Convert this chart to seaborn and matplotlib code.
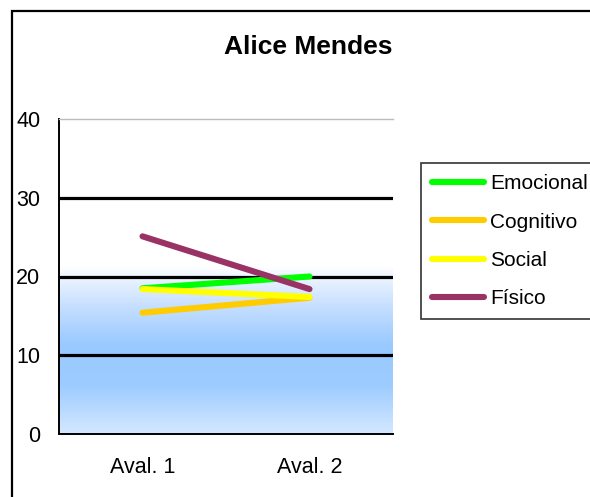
import numpy as np
import pandas as pd
import seaborn as sns
import matplotlib.pyplot as plt
from matplotlib.colors import LinearSegmentedColormap
from matplotlib.patches import Rectangle

# data
avaliacoes = ["Aval. 1", "Aval. 2"]
emocional = [18.5, 20.0]
cognitivo = [15.4, 17.3]
social = [18.4, 17.4]
fisico = [25.1, 18.4]
dominios = ["Emocional", "Cognitivo", "Social", "Físico"]
cores = ["#00FF00", "#FFCC00", "#FFFF00", "#993366"]
y_ticks = [0, 10, 20, 30, 40]

sns.set_theme(style="white", rc={"text.color": "black", "xtick.color": "black",
                                 "ytick.color": "black", "axes.labelcolor": "black"})
plt.rcParams["font.family"] = ["Liberation Sans", "DejaVu Sans"]

df = pd.DataFrame({
    "aval": avaliacoes * 4,
    "x": [0, 1] * 4,
    "valor": emocional + cognitivo + social + fisico,
    "dominio": np.repeat(dominios, 2),
})

fig = plt.figure(figsize=(5.9, 4.97), dpi=100)
ax = fig.add_axes([59 / 590, 63 / 497, 334 / 590, 315 / 497])

# gradient background (white top, blue band, lighter bottom)
grad = LinearSegmentedColormap.from_list("fundo", [
    (0.0, "#D4E8FF"),
    (0.15, "#9ECCFF"),
    (0.28, "#99C9FF"),
    (0.40, "#C4DEFF"),
    (0.50, "#EEF5FF"),
    (0.53, "#FFFFFF"),
    (1.0, "#FFFFFF"),
])
ax.imshow(np.linspace(0, 1, 256).reshape(-1, 1), aspect="auto", cmap=grad,
          origin="lower", extent=[-0.5, 1.5, 0, 40], zorder=0)

for v in [10, 20, 30]:
    ax.axhline(v, color="black", lw=2.3, zorder=1)

sns.lineplot(data=df, x="x", y="valor", hue="dominio", hue_order=dominios,
             palette=cores, lw=4.4, ax=ax, legend=True, zorder=3)

ax.set_xlim(-0.5, 1.5)
ax.set_ylim(0, 40)
ax.set_yticks(y_ticks)
ax.set_yticklabels([str(t) for t in y_ticks], fontsize=15.5)
ax.set_xticks([-0.5, 0.5, 1.5])
ax.set_xticklabels([])
ax.set_xticks([0, 1], minor=True)
ax.set_xticklabels(avaliacoes, minor=True, fontsize=15.5)
ax.tick_params(axis="x", which="minor", length=0, pad=16.5)
ax.tick_params(axis="x", which="major", direction="out", length=5, width=1.2, color="black")
ax.tick_params(axis="y", direction="out", length=6.5, width=1.2, color="black", pad=7)
ax.set_xlabel("")
ax.set_ylabel("")

for s in ["left", "bottom"]:
    ax.spines[s].set_color("black")
    ax.spines[s].set_linewidth(1.4)
ax.spines["top"].set_color("#BBBBBB")
ax.spines["top"].set_linewidth(1.0)
ax.spines["right"].set_visible(False)

ax.legend_.remove()
handles, labels = ax.get_legend_handles_labels()
leg = fig.legend(handles, labels, loc="upper left",
                 bbox_to_anchor=(421 / 590, 1 - 163 / 497),
                 frameon=True, fancybox=False, fontsize=15,
                 handlelength=2.45, handletextpad=0.3, labelspacing=0.92,
                 borderpad=0.55, borderaxespad=0)
leg.get_frame().set_edgecolor("black")
leg.get_frame().set_linewidth(1.2)
for h in leg.get_lines():
    h.set_linewidth(4.4)

fig.text(308 / 590, 1 - 47 / 497, "Alice Mendes", ha="center", va="center",
         fontsize=19, fontweight="bold")

# outer chart border
fig.patches.append(Rectangle((12 / 590, -0.1), 1.2, 1 - 11 / 497 + 0.1,
                             transform=fig.transFigure, fill=False,
                             edgecolor="black", lw=1.6))

fig.savefig("out.png", dpi=100)
